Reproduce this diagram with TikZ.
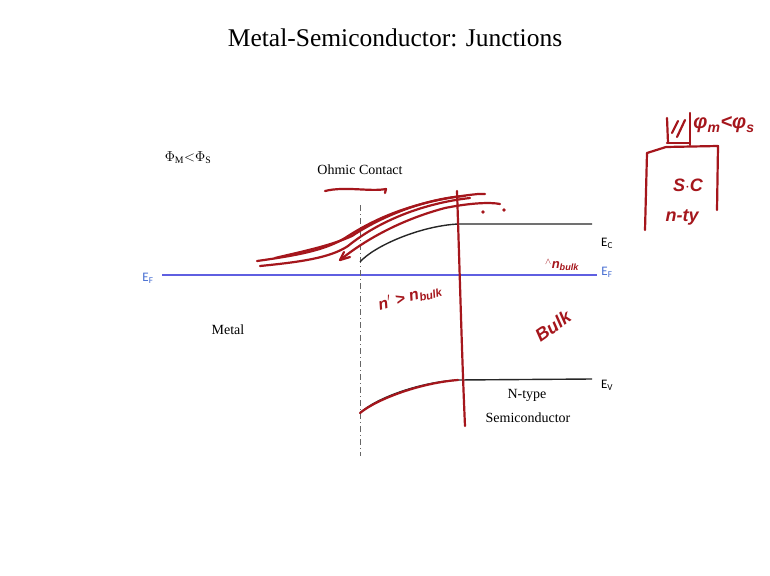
\documentclass[tikz,border=0pt]{standalone}
\usepackage{fontspec}
\setmainfont{Liberation Serif}
\newfontfamily\labfont{Carlito}
\newfontfamily\handfont{Liberation Sans}
\usetikzlibrary{calc}
\definecolor{efblue}{RGB}{95,95,225}
\definecolor{lblblue}{RGB}{70,110,210}
\definecolor{ink}{RGB}{165,22,28}
\begin{document}
\begin{tikzpicture}[x=1pt,y=-1pt,
  band/.style={draw=black!85, line width=1.4pt},
  pen/.style={draw=ink, line width=2.2pt, line cap=round, line join=round},
  hand/.style={text=ink, font=\handfont\bfseries\itshape\fontsize{16}{16}\selectfont, inner sep=0pt},
  plain/.style={inner sep=0pt, font=\fontsize{14}{16}\selectfont},
  lbl/.style={inner sep=0pt, font=\labfont\fontsize{13}{13}\selectfont}]
\useasboundingbox (0,0) rectangle (770,575);
\fill[white] (0,0) rectangle (770,575);
% title
\node[inner sep=0pt, font=\fontsize{25.5}{30}\selectfont] (title) at (395,38) {Metal-Semiconductor: Junctions};
% labels
\node[inner sep=0pt, font=\fontsize{14}{16}\selectfont] (phi) at (188,158) {$\Phi_{\mathrm M}{<}\Phi_{\mathrm S}$};
\node[plain] (ohmic) at (360,170) {Ohmic Contact};
\node[plain] (metal) at (228,330) {Metal};
\node[plain] (ntype) at (527,395) {N-type};
\node[plain] (semi) at (528,418) {Semiconductor};
% Fermi level
\coordinate (efl) at (162,275);
\coordinate (efr) at (597,275);
\draw[draw=efblue, line width=1.3pt] (efl) -- (efr);
\node[lbl, text=lblblue] (efL) at (148,278) {E\textsubscript{F}};
\node[lbl, text=lblblue] (efR) at (607,272) {E\textsubscript{F}};
\node[lbl] (ec) at (607,243) {E\textsubscript{C}};
\node[lbl] (ev) at (607,385) {E\textsubscript{V}};
% interface
\coordinate (it) at (360,205);
\coordinate (ib) at (360,456);
\draw[black!60, line width=0.9pt, dash pattern=on 6pt off 3pt on 1pt off 3pt] (it) -- (ib);
% bands
\coordinate (ec0) at (360,262);
\coordinate (ec1) at (458,224);
\coordinate (ec2) at (592,224);
\draw[band] (ec0) .. controls (374,246) and (420,226) .. (ec1) -- (ec2);
\coordinate (ev0) at (360,413);
\coordinate (ev1) at (458,380);
\coordinate (ev2) at (592,379);
\draw[band] (ev0) .. controls (376,398) and (420,382) .. (ev1) -- (ev2);
% ---------- handwritten annotations ----------
\draw[pen] (ev0) .. controls (377,399) and (420,383) .. (ev1);
\draw[pen] (325,191) .. controls (345,186) and (370,192) .. (386,189) -- (385,193);
% upper strokes over contact
\draw[pen] (257,261) .. controls (300,255) and (325,250) .. (345,238) .. controls (380,215) and (420,200) .. (478,194) -- (485,194);
\draw[pen] (260,266) .. controls (300,262) and (330,258) .. (348,246) .. controls (380,220) and (425,203) .. (470,198);
\draw[pen] (275,258) .. controls (300,252) and (330,246) .. (352,236) .. controls (385,214) and (430,198) .. (465,196);
\draw[pen] (340,260) .. controls (365,240) and (400,220) .. (445,208) .. controls (470,203) and (490,202) .. (500,204);
\draw[pen] (340,260) -- (344,252);
\draw[pen] (340,260) -- (350,257);
\fill[ink] (483,212) circle (1.8);
\fill[ink] (504,210) circle (1.8);
% vertical red line
\coordinate (rt) at (457,191);
\coordinate (rb) at (465,426);
\draw[pen] (rt) .. controls (460,280) and (462,360) .. (rb);
% handwritten text
\node[hand, rotate=15] (nprime) at (410,297) {n$'$ > n\textsubscript{bulk}};
\node[hand, font=\handfont\bfseries\itshape\fontsize{13}{13}\selectfont] (nbulk) at (562,265) {\textsuperscript{$\wedge$}n\textsubscript{bulk}};
\node[hand, rotate=35, font=\handfont\bfseries\itshape\fontsize{18}{18}\selectfont] (bulk) at (553,326) {Bulk};
% top right sketch
\node[hand, font=\handfont\bfseries\itshape\fontsize{20}{20}\selectfont] (phims) at (724,125) {φ\textsubscript{m}<φ\textsubscript{s}};
\draw[pen] (668,143) -- (667,118);
\draw[pen] (690,145) -- (690,113);
\draw[pen] (667,143) -- (690,143);
\draw[pen] (672,133) -- (678,121);
\draw[pen] (677,137) -- (685,120);
\draw[pen] (647,153) -- (666,147) -- (718,146) -- (717,210);
\draw[pen] (647,153) -- (645,230);
\node[hand, font=\handfont\bfseries\itshape\fontsize{18}{18}\selectfont] (sc) at (688,185) {S$\cdot$C};
\node[hand, font=\handfont\bfseries\itshape\fontsize{18}{18}\selectfont] (nty) at (682,217) {n-ty};
\end{tikzpicture}
\end{document}
